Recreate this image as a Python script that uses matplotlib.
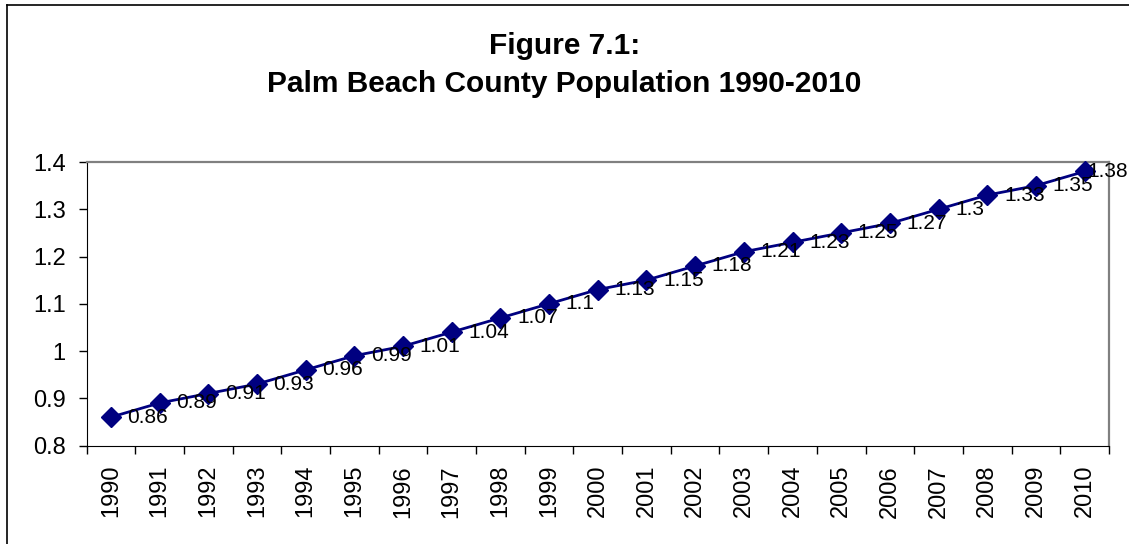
import matplotlib
matplotlib.use("Agg")
import matplotlib.pyplot as plt
from matplotlib.lines import Line2D

plt.rcParams['font.family'] = ['Liberation Sans', 'DejaVu Sans']

years = [str(y) for y in range(1990, 2011)]
population = [0.86, 0.89, 0.91, 0.93, 0.96, 0.99, 1.01, 1.04, 1.07, 1.1, 1.13,
              1.15, 1.18, 1.21, 1.23, 1.25, 1.27, 1.3, 1.33, 1.35, 1.38]
y_ticks = [0.8, 0.9, 1.0, 1.1, 1.2, 1.3, 1.4]

W, H = 1129, 544
fig = plt.figure(figsize=(W / 100, H / 100), dpi=100)
ax = fig.add_axes([86.5 / W, 1 - 445.5 / H, (1109 - 86.5) / W, (445.5 - 162) / H])

x = list(range(len(years)))
ax.plot(x, population, color='#000080', lw=2, marker='D', ms=10,
        markerfacecolor='#000080', markeredgecolor='#000080', clip_on=False, zorder=3)

for xi, v in zip(x, population):
    # the last label is pulled back so it stays inside the picture
    dx = 12 if xi < len(x) - 1 else 2
    ax.annotate(f"{v:g}", (xi, v), xytext=(dx, 0), textcoords='offset points',
                ha='left', va='center', fontsize=15, color='black', annotation_clip=False)

ax.set_xlim(-0.5, len(years) - 0.5)
ax.set_ylim(0.8, 1.4)

# ticks on the category boundaries, labels in the middle
ax.set_xticks([i - 0.5 for i in range(len(years) + 1)])
ax.set_xticklabels([])
ax.set_xticks(x, minor=True)
ax.set_xticklabels(years, minor=True, rotation=90, fontsize=17)
ax.tick_params(axis='x', which='major', direction='out', length=6, width=1, color='black')
ax.tick_params(axis='x', which='minor', length=0, pad=14)

ax.set_yticks(y_ticks)
ax.set_yticklabels([f"{t:g}" for t in y_ticks], fontsize=17)
ax.tick_params(axis='y', direction='out', length=6, width=1, pad=9, color='black')

ax.spines['left'].set_color('black')
ax.spines['bottom'].set_color('black')
ax.spines['top'].set_color('#808080')
ax.spines['right'].set_color('#808080')
ax.spines['top'].set_linewidth(1.6)
ax.spines['right'].set_linewidth(1.6)

fig.text(0.5, 1 - 54 / H, "Figure 7.1:", ha='center', va='baseline',
         fontsize=21.5, fontweight='bold')
fig.text(0.5, 1 - 92 / H, "Palm Beach County Population 1990-2010", ha='center',
         va='baseline', fontsize=21.5, fontweight='bold')

# chart area border (only top and left are inside the picture)
fig.add_artist(Line2D([7 / W, 1], [1 - 5 / H, 1 - 5 / H], color='black', lw=1.2,
                      transform=fig.transFigure))
fig.add_artist(Line2D([7 / W, 7 / W], [0, 1 - 5 / H], color='black', lw=1.2,
                      transform=fig.transFigure))

fig.savefig("out.png", dpi=100)
